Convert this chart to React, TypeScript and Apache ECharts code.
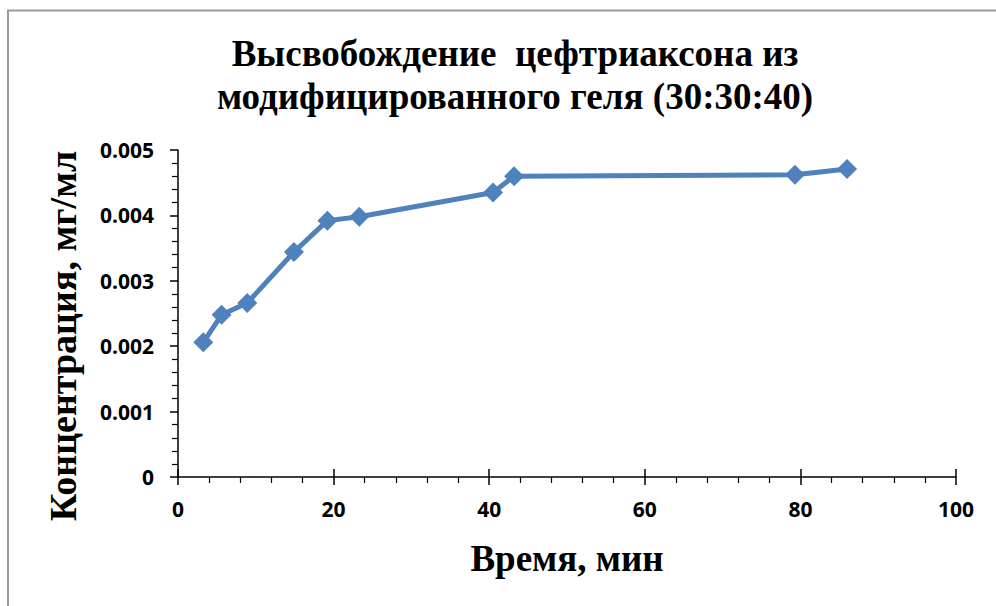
import React, { useEffect, useRef } from "react";
import * as echarts from "echarts";

const timeMin = [3.25, 5.6, 8.9, 14.9, 19.2, 23.3, 40.5, 43.2, 79.3, 86.0];
const concentration = [0.00206, 0.00248, 0.00266, 0.00344, 0.00392, 0.00398, 0.00435, 0.0046, 0.00462, 0.00471];
const titleLines = ["Высвобождение  цефтриаксона из", "модифицированного геля (30:30:40)"];
const xName = "Время, мин";
const yName = "Концентрация, мг/мл";

export default function App() {
  const ref = useRef<HTMLDivElement>(null);
  useEffect(() => {
    document.body.style.margin = "0";
    const chart = echarts.init(ref.current!, null, { renderer: "svg" });
    const data = timeMin.map((t, i) => [t, concentration[i]]);
    const tickFont = { fontFamily: "Open Sans", fontWeight: "bold" as const, fontSize: 21, color: "#000" };
    chart.setOption({
      animation: false,
      backgroundColor: "#fff",
      title: {
        text: titleLines.join("\n"),
        left: 510,
        top: 27,
        textAlign: "center",
        textStyle: { fontFamily: "Liberation Serif", fontWeight: "bold", fontSize: 37, lineHeight: 43, color: "#000" },
      },
      grid: { left: 178, right: 40, top: 150, bottom: 129 },
      xAxis: [
        {
          type: "value",
          min: 0,
          max: 100,
          interval: 20,
          axisLine: { show: true, lineStyle: { color: "#000", width: 1.5 } },
          axisTick: { show: true, length: 8, lineStyle: { color: "#000", width: 1.5 } },
          minorTick: { show: true, splitNumber: 5, length: 6, lineStyle: { color: "#000", width: 1.2 } },
          splitLine: { show: false },
          axisLabel: { ...tickFont, margin: 21 },
        },
        {
          type: "value",
          position: "bottom",
          min: 0,
          max: 100,
          interval: 20,
          axisLine: { show: false },
          axisTick: { show: true, inside: true, length: 8, lineStyle: { color: "#000", width: 1.5 } },
          axisLabel: { show: false },
          splitLine: { show: false },
        },
      ],
      yAxis: {
        type: "value",
        min: 0,
        max: 0.005,
        interval: 0.001,
        axisLine: { show: true, lineStyle: { color: "#000", width: 1.5 } },
        axisTick: { show: true, length: 8, lineStyle: { color: "#000", width: 1.5 } },
        minorTick: { show: true, splitNumber: 5, length: 6, lineStyle: { color: "#000", width: 1.2 } },
        splitLine: { show: false },
        axisLabel: {
          ...tickFont,
          margin: 24,
          formatter: (v: number) => (v === 0 ? "0" : v.toFixed(3)),
        },
      },
      series: [
        {
          type: "line",
          xAxisIndex: 0,
          data,
          symbol: "diamond",
          symbolSize: 20,
          lineStyle: { color: "#4F81BD", width: 5 },
          itemStyle: { color: "#4F81BD" },
        },
      ],
      graphic: [
        {
          type: "rect",
          shape: { x: 8, y: 10.5, width: 1200, height: 800 },
          style: { fill: "none", stroke: "#9a9a9a", lineWidth: 2 },
          silent: true,
        },
        {
          type: "text",
          x: 63,
          y: 336,
          rotation: Math.PI / 2,
          style: {
            text: yName,
            fontFamily: "Liberation Serif",
            fontWeight: "bold",
            fontSize: 38,
            fill: "#000",
            align: "center",
            verticalAlign: "middle",
          },
        },
        {
          type: "text",
          x: 567,
          y: 558,
          style: {
            text: xName,
            fontFamily: "Liberation Serif",
            fontWeight: "bold",
            fontSize: 37,
            fill: "#000",
            align: "center",
            verticalAlign: "middle",
          },
        },
      ],
    });
    return () => chart.dispose();
  }, []);
  return <div ref={ref} style={{ width: 996, height: 606 }} />;
}
